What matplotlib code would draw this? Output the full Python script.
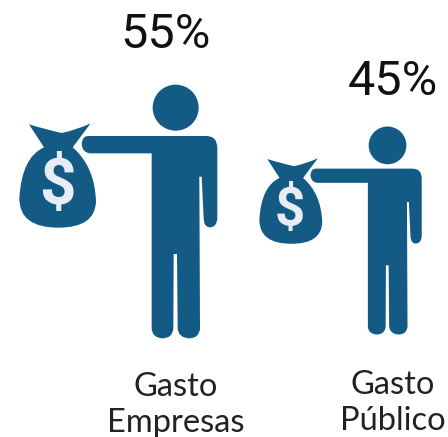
import matplotlib
matplotlib.use("Agg")
import matplotlib.pyplot as plt
from matplotlib.path import Path
from matplotlib.patches import PathPatch, Circle
from matplotlib.transforms import Affine2D

categories = ["Gasto\nEmpresas", "Gasto\nPúblico"]
shares = [55, 45]

COLOR = "#135a85"
DOLLAR = "#e8ecf4"
PCT_FONT = "Roboto"
LABEL_FONT = "Lato"

M, L, C, Z = Path.MOVETO, Path.LINETO, Path.CURVE3, Path.CLOSEPOLY

person = [
    (M, 245, 222), (C, 247, 198), (L, 264, 198), (L, 618, 198), (C, 652, 198), (L, 652, 234),
    (L, 652, 445), (C, 650, 472), (L, 630, 472), (C, 612, 472), (L, 611, 445), (L, 605, 320), (L, 598, 320),
    (L, 600, 775), (C, 598, 805), (L, 567, 805), (C, 535, 803), (L, 533, 775), (L, 531, 552), (L, 521, 552),
    (L, 520, 775), (C, 518, 805), (L, 487, 805), (C, 456, 803), (L, 455, 775), (L, 455, 250), (L, 270, 250),
    (C, 247, 248), (L, 245, 222), (Z, 245, 222),
]
bag = [
    (M, 87, 163), (C, 135, 178), (L, 185, 189), (C, 230, 180), (L, 272, 160), (L, 218, 232),
    (C, 285, 290), (L, 288, 395), (C, 285, 473), (L, 175, 473), (C, 58, 473), (L, 58, 385),
    (C, 65, 262), (L, 132, 232), (L, 87, 163), (Z, 87, 163),
]


def make_path(spec):
    codes = []
    verts = []
    pending = False
    for code, x, y in spec:
        if code == C:
            pending = True
            codes.append(C)
        elif pending:
            pending = False
            codes.append(C)
        else:
            codes.append(code)
        verts.append((x, y))
    return Path(verts, codes)


fig = plt.figure(figsize=(4.48, 4.37), dpi=100, facecolor="white")
ax = fig.add_axes([0, 0, 1, 1])
ax.set_xlim(0, 448)
ax.set_ylim(437, 0)
ax.axis("off")


def draw_icon(scale, dx, dy, dollar_size):
    tf = Affine2D().scale(scale / 3).translate(dx, dy) + ax.transData
    ax.add_patch(PathPatch(make_path(person), fc=COLOR, ec="none", transform=tf))
    ax.add_patch(PathPatch(make_path(bag), fc=COLOR, ec="none", transform=tf))
    ax.add_patch(Circle((527, 113), 69, fc=COLOR, ec="none", transform=tf))
    ax.text(171, 350, "$", color=DOLLAR, fontsize=dollar_size, family="Roboto", weight="bold",
            ha="center", va="center", transform=tf, parse_math=False)


draw_icon(1.0, 0, 70, 46)
draw_icon(0.82, 243.5, 114.5, 38)

ax.text(166, 35, f"{shares[0]}%", fontsize=35, family=PCT_FONT, color="#111111", ha="center", va="center")
ax.text(393, 82, f"{shares[1]}%", fontsize=35, family=PCT_FONT, color="#111111", ha="center", va="center")
ax.text(176, 405, categories[0], fontsize=23.5, family=LABEL_FONT, color="#222222", ha="center", va="center", linespacing=1.28)
ax.text(393, 403, categories[1], fontsize=23.5, family=LABEL_FONT, color="#222222", ha="center", va="center", linespacing=1.28)

fig.savefig("out.png", dpi=100)
